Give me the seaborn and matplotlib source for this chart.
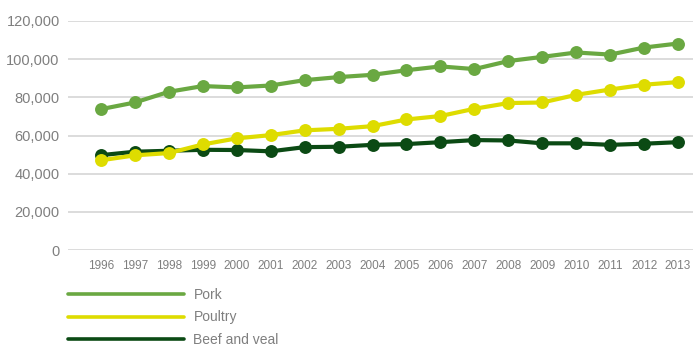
import matplotlib
matplotlib.use("Agg")
import matplotlib.pyplot as plt
from matplotlib.lines import Line2D
from matplotlib.ticker import FuncFormatter
import seaborn as sns
import pandas as pd

years = list(range(1996, 2014))
pork = [73800, 77300, 82900, 85900, 85200, 86200, 89000, 90600, 91800, 94200,
        96200, 94800, 99000, 101200, 103500, 102400, 106100, 108200]
poultry = [47000, 49600, 50800, 55300, 58500, 60200, 62700, 63500, 64900, 68400,
           70200, 74000, 77000, 77300, 81300, 84100, 86600, 88000]
beef = [49700, 51500, 52000, 52500, 52400, 51700, 53900, 54100, 55100, 55500,
        56500, 57600, 57400, 55900, 55900, 55100, 55700, 56500]
series_names = ["Pork", "Poultry", "Beef and veal"]
colors = {"Pork": "#6aa842", "Poultry": "#dedc00", "Beef and veal": "#0b4a14"}
yticks = [0, 20000, 40000, 60000, 80000, 100000, 120000]

df = pd.DataFrame({
    "year": years * 3,
    "value": pork + poultry + beef,
    "series": ["Pork"] * len(years) + ["Poultry"] * len(years) + ["Beef and veal"] * len(years),
})

sns.set_theme(style="white")
plt.rcParams["font.family"] = ["Liberation Sans", "DejaVu Sans"]

fig = plt.figure(figsize=(6.93, 3.47), dpi=100)
ax = fig.add_axes([68 / 693, (347 - 250) / 347, 1 - 68 / 693, (250 - 21) / 347])

for name in ["Beef and veal", "Poultry", "Pork"]:
    sub = df[df["series"] == name]
    sns.lineplot(data=sub, x="year", y="value", ax=ax, color=colors[name],
                 linewidth=3, marker="o", markersize=9.3, markeredgewidth=0,
                 clip_on=False, legend=False, zorder=3)

ax.set_xlim(1995.03, 2013.44)
ax.set_ylim(0, 120000)
ax.set_yticks(yticks)
ax.yaxis.set_major_formatter(FuncFormatter(lambda v, p: f"{int(v):,}"))
ax.set_xticks(years)
ax.set_xticklabels([str(y) for y in years])
ax.tick_params(axis="y", labelsize=10.5, labelcolor="#7f7f7f", length=0, pad=6)
ax.tick_params(axis="x", labelsize=8.5, labelcolor="#7f7f7f", length=0, pad=7)
ax.grid(axis="y", color="#d9d9d9", linewidth=1.3)
ax.grid(axis="x", visible=False)
for s in ax.spines.values():
    s.set_visible(False)
ax.set_xlabel("")
ax.set_ylabel("")

handles = [Line2D([0], [0], color=colors[n], linewidth=2.6) for n in series_names]
leg = fig.legend(handles, series_names, loc="upper left",
                 bbox_to_anchor=(65 / 693, 1 - 285 / 347), frameon=False,
                 fontsize=10, handlelength=8.4, handletextpad=0.65,
                 labelspacing=0.62, borderaxespad=0, borderpad=0.2)
for t in leg.get_texts():
    t.set_color("#7f7f7f")

fig.savefig("out.png", dpi=100)
